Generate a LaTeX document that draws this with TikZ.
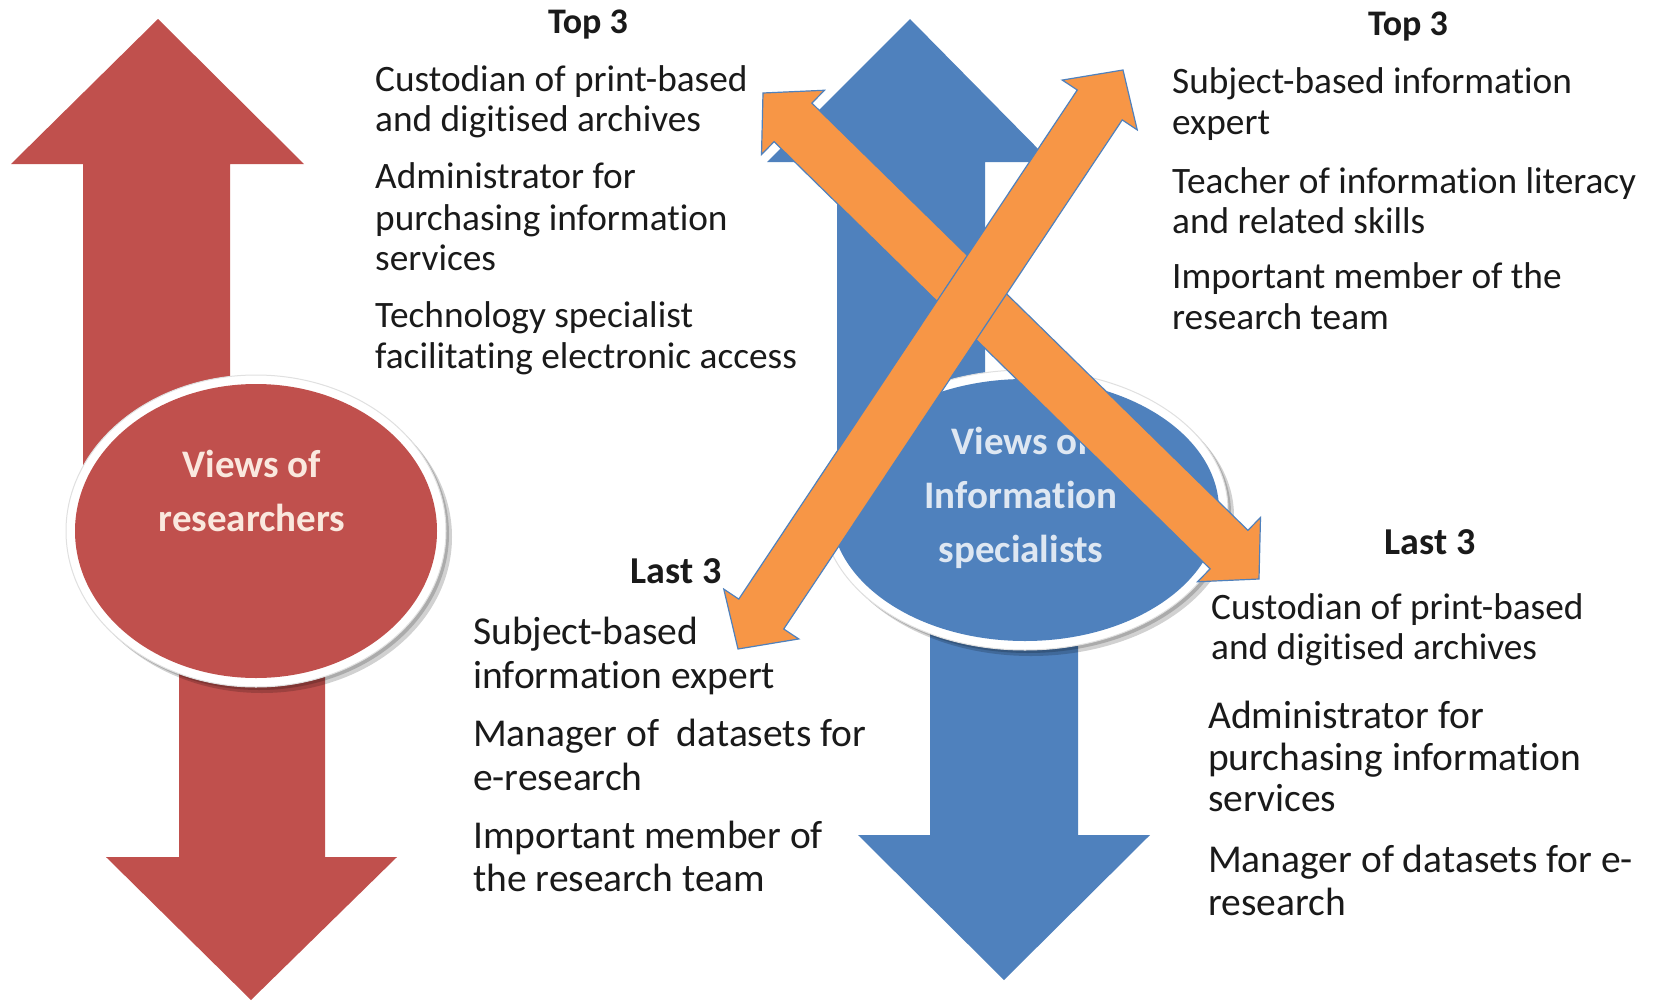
\documentclass[tikz,border=0pt]{standalone}
\usepackage{fontspec}
\setmainfont{Carlito}[Ligatures=NoCommon]
\usetikzlibrary{calc}
\definecolor{offred}{HTML}{C0504D}
\definecolor{offblue}{HTML}{4F81BD}
\definecolor{offorange}{HTML}{F79646}
\definecolor{redtxt}{RGB}{250,232,222}
\definecolor{bluetxt}{RGB}{222,231,242}
\definecolor{bodytxt}{HTML}{1A1A1A}
\newcommand\dblarrow[3]{%
  \filldraw[#1] (#2)
    -- ($(#2)!42pt!(#3)!45pt!90:(#3)$)
    -- ($(#2)!42pt!(#3)!27pt!90:(#3)$)
    -- ($(#3)!42pt!(#2)!27pt!-90:(#2)$)
    -- ($(#3)!42pt!(#2)!45pt!-90:(#2)$)
    -- (#3)
    -- ($(#3)!42pt!(#2)!45pt!90:(#2)$)
    -- ($(#3)!42pt!(#2)!27pt!90:(#2)$)
    -- ($(#2)!42pt!(#3)!27pt!-90:(#3)$)
    -- ($(#2)!42pt!(#3)!45pt!-90:(#3)$)
    -- cycle;}
\begin{document}
\begin{tikzpicture}[x=1pt,y=-1pt,
  line/.style={anchor=base west, inner sep=0pt, text=bodytxt, font=\fontsize{37.3}{44}\selectfont},
  bigline/.style={anchor=base west, inner sep=0pt, text=bodytxt, font=\fontsize{39.5}{46}\selectfont},
  tophead/.style={anchor=base, inner sep=0pt, text=bodytxt, font=\fontsize{36}{44}\selectfont\bfseries},
  lasthead/.style={anchor=base, inner sep=0pt, text=bodytxt, font=\fontsize{38}{44}\selectfont\bfseries},
  redlbl/.style={anchor=base, inner sep=0pt, text=redtxt, font=\fontsize{39}{46}\selectfont\bfseries},
  bluelbl/.style={anchor=base, inner sep=0pt, text=bluetxt, font=\fontsize{39}{46}\selectfont\bfseries},
  orangearrow/.style={fill=offorange, draw=offblue, line width=1.2pt, line join=miter},
  ringshadow/.style={fill=black, opacity=0.18},
  ring/.style={fill=white, draw=black!12, line width=1pt}
]
\useasboundingbox (0,0) rectangle (1658,1002);
\fill[white] (0,0) rectangle (1658,1002);

% ---- red (researchers) ----
\fill[offred] (83,540) -- (83,164) -- (11,164) -- (158,19) -- (304,164) -- (230,164) -- (230,540) -- cycle;
\fill[offred] (179,520) -- (179,857) -- (106,857) -- (251,1000) -- (397,857) -- (325,857) -- (325,520) -- cycle;
\fill[ringshadow] (262,537) ellipse [x radius=190pt, y radius=156pt];
\fill[ringshadow] (259,534) ellipse [x radius=190pt, y radius=156pt];
\filldraw[ring] (256,531) ellipse [x radius=190pt, y radius=156pt];
\fill[offred] (256,531) ellipse [x radius=181pt, y radius=147pt];
\node[redlbl] (r1) at (252,477) {Views of};
\node[redlbl] (r2) at (252,531) {researchers};

% ---- blue (information specialists) ----
\fill[offblue] (837,520) -- (837,162) -- (767,162) -- (910,19) -- (1051,162) -- (985,162) -- (985,520) -- cycle;
\fill[offblue] (930,560) -- (930,835) -- (858,835) -- (1004,980) -- (1150,835) -- (1078,835) -- (1078,560) -- cycle;
\fill[ringshadow] (1031,516) ellipse [x radius=203pt, y radius=140pt];
\fill[ringshadow] (1028,513) ellipse [x radius=203pt, y radius=140pt];
\filldraw[ring] (1025,510) ellipse [x radius=203pt, y radius=140pt];
\fill[offblue] (1025,510) ellipse [x radius=194pt, y radius=131pt];
\node[bluelbl] (b1) at (1021,454) {Views of};
\node[bluelbl] (b2) at (1021,508) {Information};
\node[bluelbl] (b3) at (1021,562) {specialists};

% ---- top 3, researchers ----
\node[tophead] (t1h) at (588,33) {Top 3};
\node[line] (t1a) at (375,91) {Custodian of print-based};
\node[line] (t1b) at (375,131) {and digitised archives};
\node[line] (t1c) at (375,188) {Administrator for};
\node[line] (t1d) at (375,230) {purchasing information};
\node[line] (t1e) at (375,270) {services};
\node[line] (t1f) at (375,327) {Technology specialist};
\node[line] (t1g) at (375,368) {facilitating electronic access};

% ---- top 3, information specialists ----
\node[tophead] (t2h) at (1408,35) {Top 3};
\node[line] (t2a) at (1172,93) {Subject-based information};
\node[line] (t2b) at (1172,134) {expert};
\node[line] (t2c) at (1172,193) {Teacher of information literacy};
\node[line] (t2d) at (1172,233) {and related skills};
\node[line] (t2e) at (1172,288) {Important member of the};
\node[line] (t2f) at (1172,329) {research team};

% ---- last 3, researchers ----
\node[lasthead] (l1h) at (676,583) {Last 3};
\node[bigline] (l1a) at (473,644) {Subject-based};
\node[bigline] (l1b) at (473,688) {information expert};
\node[bigline] (l1c) at (473,746) {Manager of\ \ datasets for};
\node[bigline] (l1d) at (473,790) {e-research};
\node[bigline] (l1e) at (473,848) {Important member of};
\node[bigline] (l1f) at (473,891) {the research team};

% ---- last 3, information specialists ----
\node[lasthead] (l2h) at (1430,554) {Last 3};
\node[line] (l2a) at (1211,619) {Custodian of print-based};
\node[line] (l2b) at (1211,659) {and digitised archives};
\node[bigline] (l2c) at (1208,728) {Administrator for};
\node[bigline] (l2d) at (1208,770) {purchasing information};
\node[bigline] (l2e) at (1208,811) {services};
\node[bigline] (l2f) at (1208,872) {Manager of datasets for e-};
\node[bigline] (l2g) at (1208,915) {research};

% ---- orange crossing arrows ----
\coordinate (bstart) at (763,93);
\coordinate (bend) at (1259,579);
\coordinate (astart) at (738,649);
\coordinate (aend) at (1123,70);
\dblarrow{orangearrow}{bstart}{bend}
\dblarrow{orangearrow}{astart}{aend}
\end{tikzpicture}
\end{document}
